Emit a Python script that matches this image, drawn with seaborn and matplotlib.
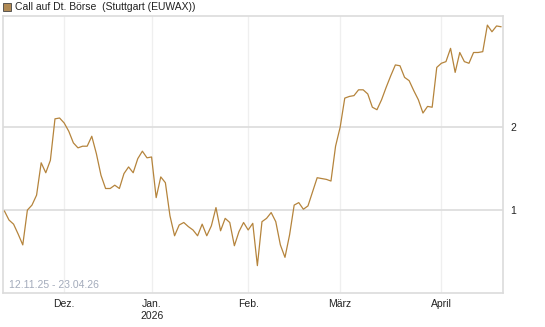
import numpy as np
import pandas as pd
import matplotlib
matplotlib.use("Agg")
import matplotlib.pyplot as plt
import seaborn as sns

# Daily closing values (trading days 12.11.25 - 23.04.26)
values = [0.99, 0.88, 0.83, 0.71, 0.58, 1.00, 1.06, 1.18, 1.57, 1.45,
          1.60, 2.10, 2.11, 2.05, 1.95, 1.81, 1.75, 1.77, 1.77, 1.89,
          1.68, 1.42, 1.26, 1.26, 1.30, 1.26, 1.44, 1.52, 1.45, 1.62,
          1.71, 1.63, 1.64, 1.15, 1.40, 1.33, 0.93, 0.69, 0.82, 0.85,
          0.80, 0.76, 0.69, 0.83, 0.69, 0.81, 1.03, 0.75, 0.90, 0.85,
          0.57, 0.74, 0.85, 0.76, 0.84, 0.33, 0.86, 0.90, 0.97, 0.86,
          0.58, 0.43, 0.70, 1.06, 1.09, 1.01, 1.05, 1.22, 1.39, 1.38,
          1.37, 1.35, 1.77, 2.00, 2.35, 2.37, 2.38, 2.45, 2.45, 2.40,
          2.24, 2.21, 2.33, 2.48, 2.62, 2.75, 2.74, 2.60, 2.56, 2.44,
          2.33, 2.17, 2.25, 2.24, 2.72, 2.77, 2.79, 2.95, 2.66, 2.90,
          2.79, 2.77, 2.90, 2.90, 2.91, 3.23, 3.15, 3.22, 3.21]

# first trading day of each month (index into values)
month_idx = [13, 32, 53, 73, 95]
month_labels = ["Dez.", "Jan.\n2026", "Feb.", "März", "April"]
y_ticks = [1, 2]

series_name = "Call auf Dt. Börse  (Stuttgart (EUWAX))"
period_text = "12.11.25 - 23.04.26"

df = pd.DataFrame({"day": np.arange(len(values)), "value": values})

sns.set_style("white")
plt.rcParams['font.family'] = ['Liberation Sans', 'DejaVu Sans']

line_color = '#b5843c'
grid_color = '#dcdcdc'

fig = plt.figure(figsize=(5.45, 3.27), dpi=100)
ax = fig.add_axes([3 / 545, 34 / 327, 500 / 545, 277 / 327])

sns.lineplot(data=df, x="day", y="value", ax=ax, color=line_color,
             linewidth=0.9, zorder=3)

ax.set_xlim(-0.3, len(values) - 0.6)
ax.set_ylim(0, 3.34)

ax.set_xticks(month_idx)
ax.set_xticklabels(month_labels, fontsize=7.5, color='#222222', linespacing=1.3)
ax.set_yticks(y_ticks)
ax.set_yticklabels([str(t) for t in y_ticks], fontsize=7.5, color='#222222')
ax.yaxis.tick_right()
ax.tick_params(axis='y', length=0, pad=5)
ax.tick_params(axis='x', length=2, color='#e6e6e6', pad=2)
ax.set_xlabel("")
ax.set_ylabel("")

for t in y_ticks:
    ax.axhline(t, color=grid_color, linewidth=1.2, zorder=1)
for m in month_idx:
    ax.axvline(m, color='#efefef', linewidth=0.9, zorder=0)

for s in ax.spines.values():
    s.set_color(grid_color)
    s.set_linewidth(1.2)

ax.text(0.012, 0.012, period_text, transform=ax.transAxes, fontsize=7.5,
        color='#a3abbb', ha='left', va='bottom')

# legend box at top
fig.patches.append(plt.Rectangle((3 / 545, 1 - 11 / 327), 8 / 545, 8 / 327,
                                 transform=fig.transFigure, facecolor='#b08a55',
                                 edgecolor='#444444', linewidth=0.6))
fig.text(15 / 545, 1 - 7 / 327, series_name, fontsize=7.5, color='#222222',
         ha='left', va='center')

fig.savefig("out.png", dpi=100)
